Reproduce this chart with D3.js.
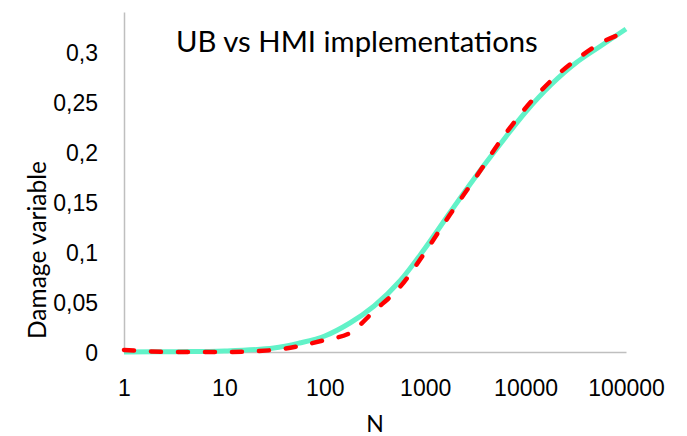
<!DOCTYPE html>
<html>
<head>
<meta charset="utf-8">
<script src="https://cdn.jsdelivr.net/npm/d3@7"></script>
<style>
	body { margin: 0; background: #fff; }
	svg { display: block; font-family: Lato, "Open Sans", sans-serif; }
</style>
</head>
<body>
<svg id="chart" width="687" height="436"></svg>
<script>
// number of cycles (log axis)
const cycles = [1, 3.2, 10, 31, 56, 100, 178, 310, 560, 1000, 1780, 3160, 5600, 10000, 17800, 31600, 56000, 100000];
// UB implementation (solid green)
const ubDamage = [0, 0.0003, 0.001, 0.004, 0.009, 0.016, 0.029, 0.046, 0.071, 0.104, 0.140, 0.175, 0.208, 0.240, 0.267, 0.289, 0.306, 0.323];
// HMI implementation (dashed red)
const hmiDamage = [0.002, 0, 0, 0.002, 0.006, 0.012, 0.019, 0.041, 0.065, 0.100, 0.138, 0.174, 0.211, 0.244, 0.271, 0.292, 0.309, 0.320];

const xTicks = [1, 10, 100, 1000, 10000, 100000];
const yTicks = [0, 0.05, 0.1, 0.15, 0.2, 0.25, 0.3];
const yTickLabels = ['0', '0,05', '0,1', '0,15', '0,2', '0,25', '0,3'];

const svg = d3.select('#chart');

const x = d3.scaleLog().domain([1, 100000]).range([124, 626]);
const y = d3.scaleLinear().domain([0, 0.34]).range([352, 12]);

// axes
const xAxis = svg.append('g')
	.attr('transform', 'translate(0,352)')
	.call(d3.axisBottom(x).tickValues(xTicks).tickSize(0).tickPadding(0).tickFormat(d3.format('d')));
xAxis.selectAll('text')
	.attr('y', 44).attr('dy', null)
	.attr('font-size', 23).attr('fill', '#000');

const yAxis = svg.append('g')
	.attr('transform', 'translate(124,0)')
	.call(d3.axisLeft(y).tickValues(yTicks).tickSize(0).tickPadding(0)
		.tickFormat((d, i) => yTickLabels[i]));
yAxis.selectAll('text')
	.attr('x', -26).attr('dy', '0.35em')
	.attr('font-size', 23).attr('fill', '#000');

svg.selectAll('.domain').attr('stroke', '#BFBFBF').attr('stroke-width', 1.5);

// lines
const line = (vals, curve) => d3.line()
	.x((d, i) => x(cycles[i]))
	.y(d => y(d))
	.curve(curve)(vals);

svg.append('path')
	.attr('d', line(ubDamage, d3.curveCatmullRom.alpha(0.5)))
	.attr('fill', 'none')
	.attr('stroke', '#62F2C8')
	.attr('stroke-width', 5);

svg.append('path')
	.attr('d', line(hmiDamage, d3.curveMonotoneX))
	.attr('fill', 'none')
	.attr('stroke', '#FF0000')
	.attr('stroke-width', 4.5)
	.attr('stroke-linecap', 'round')
	.attr('stroke-dasharray', '10,17');

// titles
svg.append('text')
	.attr('x', 176).attr('y', 52)
	.attr('font-size', 29.3)
	.text('UB vs HMI implementations');

svg.append('text')
	.attr('x', 375).attr('y', 432)
	.attr('text-anchor', 'middle')
	.attr('font-size', 23)
	.text('N');

svg.append('text')
	.attr('transform', 'translate(46,250) rotate(-90)')
	.attr('text-anchor', 'middle')
	.attr('font-size', 24.5)
	.text('Damage variable');
</script>
</body>
</html>
